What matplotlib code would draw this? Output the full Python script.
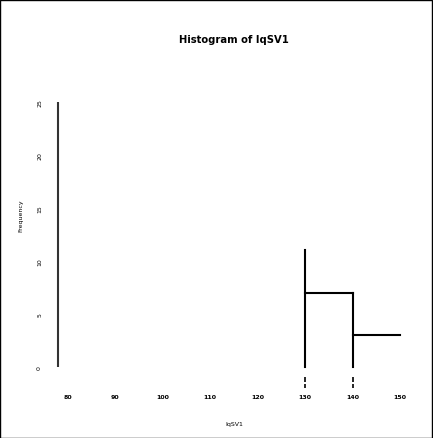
import matplotlib
matplotlib.use("Agg")
import matplotlib.pyplot as plt
from matplotlib.patches import Rectangle

# histogram of IqSV1
bin_edges = [130, 140, 150]
counts = [7, 3]
peak = 11
x_ticks = [80, 90, 100, 110, 120, 130, 140, 150]
y_ticks = [0, 5, 10, 15, 20, 25]
title = "Histogram of IqSV1"
x_label = "IqSV1"
y_label = "Frequency"

fig = plt.figure(figsize=(4.33, 4.39), dpi=100)
ax = fig.add_axes([0.1132, 0.1376, 0.8545, 0.6519])
ax.set_xlim(76, 154)
ax.set_ylim(-1, 26)
for s in ax.spines.values():
    s.set_visible(False)

# y axis line
ax.plot([77.9, 77.9], [y_ticks[0], y_ticks[-1]], color="#333333", lw=1.5,
        solid_capstyle="butt")

# steps
ax.plot([bin_edges[0], bin_edges[0]], [0, peak], color="black", lw=1.5)
ax.plot([bin_edges[0], bin_edges[1]], [counts[0], counts[0]], color="black", lw=1.5)
ax.plot([bin_edges[1], bin_edges[1]], [0, counts[0]], color="black", lw=1.5)
ax.plot([bin_edges[1], bin_edges[2]], [counts[1], counts[1]], color="black", lw=1.5)

# little marks under the bins
for e in bin_edges[:2]:
    ax.plot([e, e], [-0.95, -1.4], color="black", lw=1.2, clip_on=False,
            solid_capstyle="butt")
    ax.plot([e, e], [-1.65, -1.95], color="black", lw=1.2, clip_on=False,
            solid_capstyle="butt")

ax.set_xticks(x_ticks)
ax.set_xticklabels([str(v) for v in x_ticks], fontsize=4.5, fontweight="bold")
ax.tick_params(axis="x", length=0, pad=12)
ax.set_yticks(y_ticks)
ax.set_yticklabels([str(v) for v in y_ticks], fontsize=4.5, rotation=90, va="center")
ax.tick_params(axis="y", length=0, pad=5)

ax.set_xlabel(x_label, fontsize=4.5)
ax.xaxis.set_label_coords(0.5, -0.15)
ax.set_ylabel(y_label, fontsize=4.5)
ax.yaxis.set_label_coords(-0.068, 0.57)
fig.text(0.54, 0.908, title, fontsize=7.2, fontweight="bold", ha="center", va="center")

fig.patches.append(Rectangle((0.001, 0.001), 0.997, 0.997, transform=fig.transFigure,
                             fill=False, edgecolor="black", lw=1))

fig.savefig("out.png", dpi=100)
